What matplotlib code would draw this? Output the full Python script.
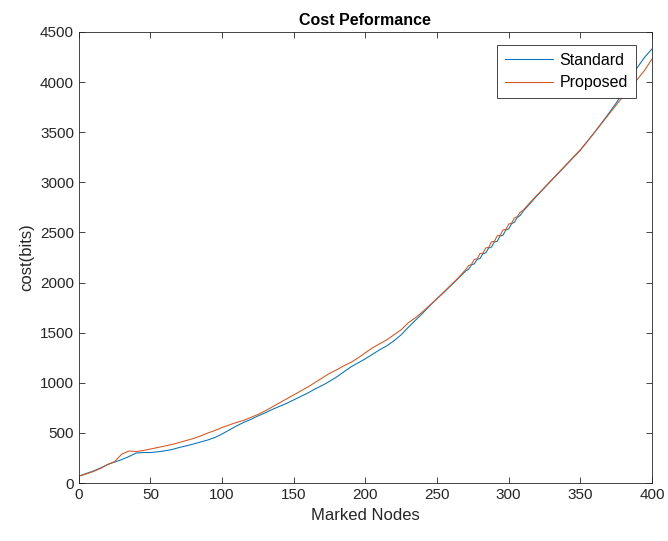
import numpy as np
import matplotlib
matplotlib.use("Agg")
import matplotlib.pyplot as plt

# node positions (denser sampling where the curves zig-zag)
nodes = np.r_[0:270:5, 270:312:2, 315:401:5]

standard = [
    70, 95, 120, 150, 185, 210, 235, 265, 300, 305,
    305, 312, 322, 335, 355, 372, 390, 410, 430, 455,
    490, 530, 570, 605, 635, 670, 700, 735, 765, 795,
    830, 865, 900, 940, 975, 1015, 1060, 1110, 1160, 1200,
    1240, 1285, 1330, 1370, 1420, 1480, 1555, 1625, 1695, 1770,
    1840, 1905, 1975, 2045,
    # 270 .. 310 step 2
    2115, 2133, 2176, 2187, 2232, 2240, 2288, 2296, 2345, 2355,
    2405, 2412, 2465, 2472, 2525, 2535, 2587, 2602, 2649, 2670, 2710,
    # 315 .. 400
    2790, 2870, 2945, 3020, 3095, 3170, 3245, 3320, 3410, 3500,
    3595, 3690, 3790, 3900, 4040, 4150, 4250, 4330,
]

proposed = [
    70, 90, 115, 145, 185, 215, 290, 320, 315, 325,
    340, 355, 370, 385, 405, 425, 445, 470, 500, 525,
    555, 580, 605, 625, 655, 685, 720, 760, 800, 840,
    880, 920, 960, 1005, 1050, 1095, 1130, 1170, 1205, 1250,
    1300, 1350, 1390, 1430, 1480, 1530, 1600, 1650, 1710, 1775,
    1840, 1910, 1980, 2050,
    # 270 .. 310 step 2
    2130, 2170, 2181, 2232, 2237, 2290, 2293, 2346, 2350, 2407,
    2410, 2467, 2470, 2525, 2530, 2583, 2592, 2644, 2658, 2701, 2720,
    # 315 .. 400
    2800, 2875, 2950, 3025, 3100, 3175, 3250, 3325, 3410, 3500,
    3590, 3680, 3770, 3860, 3950, 4030, 4120, 4230,
]

plt.rcParams["font.family"] = ["Liberation Sans", "DejaVu Sans"]

fig = plt.figure(figsize=(6.68, 5.41), dpi=100)
ax = fig.add_axes([0.118, 0.107, 0.858, 0.834])

ax.plot(nodes, standard, color="#0072BD", linewidth=0.75, label="Standard")
ax.plot(nodes, proposed, color="#D95319", linewidth=0.75, label="Proposed")

ax.set_xlim(0, 400)
ax.set_ylim(0, 4500)
ax.set_xticks(np.arange(0, 401, 50))
ax.set_yticks(np.arange(0, 4501, 500))

ax.tick_params(direction="in", top=True, right=True, length=4,
               labelsize=11, colors="#262626", width=0.6)
for s in ax.spines.values():
    s.set_color("#262626")
    s.set_linewidth(0.6)

ax.set_title("Cost Peformance", fontsize=11.5, fontweight="bold", pad=5)
ax.set_xlabel("Marked Nodes", fontsize=12, color="#262626")
ax.set_ylabel("cost(bits)", fontsize=12, color="#262626")

leg = ax.legend(loc="upper right", fontsize=11.5, fancybox=False,
                framealpha=1, edgecolor="#262626", borderpad=0.5,
                handlelength=3.0, handletextpad=0.4, labelspacing=0.45,
                borderaxespad=0, bbox_to_anchor=(0.972, 0.971))
leg.get_frame().set_linewidth(0.6)

fig.savefig("out.png", dpi=100)
